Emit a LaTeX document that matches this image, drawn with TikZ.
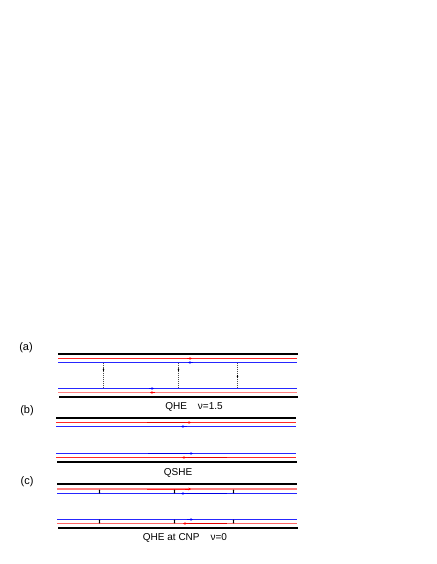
\documentclass[tikz,border=0pt]{standalone}
\usepackage{fontspec}
\setmainfont{Liberation Sans}
\usetikzlibrary{arrows.meta}
\begin{document}
\begin{tikzpicture}[x=1pt,y=-1pt,
  edge/.style={line width=2pt,black},
  rline/.style={line width=1pt,red!85},
  bline/.style={line width=1pt,blue!85},
  rarr/.style={line width=1pt,red,-{Stealth[length=2.5pt,width=2.5pt]}},
  barr/.style={line width=1pt,blue,-{Stealth[length=2.5pt,width=2.5pt]}},
  tun/.style={line width=0.35pt,black!70,dash pattern=on 1pt off 1pt},
  tarr/.style={line width=0.4pt,black,-{Stealth[length=2pt,width=1.6pt]}},
  darr/.style={line width=0.5pt,black,{Stealth[length=1.5pt,width=1.6pt]}-{Stealth[length=1.5pt,width=1.6pt]}},
  lab/.style={font=\fontsize{11}{13}\selectfont,inner sep=0pt},
  captxt/.style={font=\fontsize{10}{12}\selectfont,inner sep=0pt}]
\useasboundingbox (0,0) rectangle (436,564);
% ---------- (a)
\node[lab] (la) at (26,348) {(a)};
\coordinate (aTl) at (58,353.5); \coordinate (aTr) at (298,353.5);
\coordinate (aRl) at (58,358.5); \coordinate (aRr) at (297,358.5);
\coordinate (aBl) at (58,362.5); \coordinate (aBr) at (297,362.5);
\coordinate (abBl) at (58,388.5); \coordinate (abBr) at (297,388.5);
\coordinate (abRl) at (58,392.5); \coordinate (abRr) at (297,392.5);
\coordinate (abTl) at (59,397); \coordinate (abTr) at (298,397);
\draw[edge] (aTl) -- (aTr);
\draw[rline] (aRl) -- (aRr);
\draw[bline] (aBl) -- (aBr);
\draw[bline] (abBl) -- (abBr);
\draw[rline,red!50,line width=1.5pt] (abRl) -- (abRr);
\draw[edge] (abTl) -- (abTr);
\draw[rarr] (187,358.5) -- (192,358.5);
\draw[barr] (193,362.5) -- (188,362.5);
\draw[barr] (149,388.5) -- (154,388.5);
\draw[rarr] (155,392.5) -- (150,392.5);
\coordinate (d1t) at (103.5,362.5); \coordinate (d1b) at (103.5,388.5);
\coordinate (d2t) at (178.5,362.5); \coordinate (d2b) at (178.5,388.5);
\coordinate (d3t) at (237.5,362.5); \coordinate (d3b) at (237.5,388.5);
\draw[tun] (d1t) -- (d1b);
\draw[tun] (d2t) -- (d2b);
\draw[tun] (d3t) -- (d3b);
\draw[tarr] (103.5,371) -- (103.5,368);
\draw[tarr] (178.5,371) -- (178.5,368);
\draw[tarr] (237.5,375) -- (237.5,378);
\node[captxt] (ca) at (194,407) {QHE\hspace{11pt}ν=1.5};
% ---------- (b)
\node[lab] (lb) at (27,411) {(b)};
\coordinate (bTl) at (56,417.5); \coordinate (bTr) at (296,417.5);
\coordinate (bRl) at (56,422.5); \coordinate (bRr) at (296,422.5);
\coordinate (bBl) at (56,426.5); \coordinate (bBr) at (296,426.5);
\coordinate (bbBl) at (56,453.5); \coordinate (bbBr) at (296,453.5);
\coordinate (bbRl) at (56,457.5); \coordinate (bbRr) at (296,457.5);
\coordinate (bbTl) at (57,461.5); \coordinate (bbTr) at (297,461.5);
\draw[edge] (bTl) -- (bTr);
\draw[rline] (bRl) -- (bRr);
\draw[bline] (bBl) -- (bBr);
\draw[bline] (bbBl) -- (bbBr);
\draw[rline] (bbRl) -- (bbRr);
\draw[edge] (bbTl) -- (bbTr);
\draw[line width=1pt,red!90!black] (147,422.5) -- (186,422.5);
\draw[rarr] (185,422.5) -- (191,422.5);
\draw[barr] (187,426.5) -- (181,426.5);
\draw[line width=1pt,blue!90!black] (148,453.5) -- (188,453.5);
\draw[barr] (187,453.5) -- (193,453.5);
\draw[line width=1pt,red!90!black] (188,457.5) -- (227,457.5);
\draw[rarr] (188,457.5) -- (182,457.5);
\node[captxt] (cb) at (178,472.5) {QSHE};
% ---------- (c)
\node[lab] (lc) at (27,482) {(c)};
\coordinate (cTl) at (57,484); \coordinate (cTr) at (297,484);
\coordinate (cRl) at (57,489); \coordinate (cRr) at (297,489);
\coordinate (cBl) at (57,493.5); \coordinate (cBr) at (297,493.5);
\coordinate (ccBl) at (57,519.5); \coordinate (ccBr) at (297,519.5);
\coordinate (ccRl) at (57,523.5); \coordinate (ccRr) at (297,523.5);
\coordinate (ccTl) at (58,528); \coordinate (ccTr) at (298,528);
\draw[edge] (cTl) -- (cTr);
\draw[rline,red!50,line width=1.6pt] (cRl) -- (cRr);
\draw[bline] (cBl) -- (cBr);
\draw[bline] (ccBl) -- (ccBr);
\draw[rline,red!60,line width=1.3pt] (ccRl) -- (ccRr);
\draw[edge] (ccTl) -- (ccTr);
\draw[line width=1pt,red!85] (147,489) -- (186,489);
\draw[rarr] (185,489) -- (191,489);
\draw[line width=1pt,blue!90!black] (184,493.5) -- (227,493.5);
\draw[barr] (187,493.5) -- (181,493.5);
\draw[barr] (187,519.5) -- (193,519.5);
\draw[line width=1pt,red!90!black] (186,523.5) -- (227,523.5);
\draw[rarr] (189,523.5) -- (183,523.5);
\foreach \xx/\nm in {99.5/p,174.5/q,233.5/r}{
  \coordinate (u\nm) at (\xx,489.5); \coordinate (v\nm) at (\xx,493.5);
  \coordinate (w\nm) at (\xx,519.5); \coordinate (z\nm) at (\xx,523.5);
  \draw[darr] (u\nm) -- (v\nm);
  \draw[darr] (w\nm) -- (z\nm);
}
\node[captxt] (cc) at (185,538) {QHE at CNP\hspace{11pt}ν=0};
\end{tikzpicture}
\end{document}
